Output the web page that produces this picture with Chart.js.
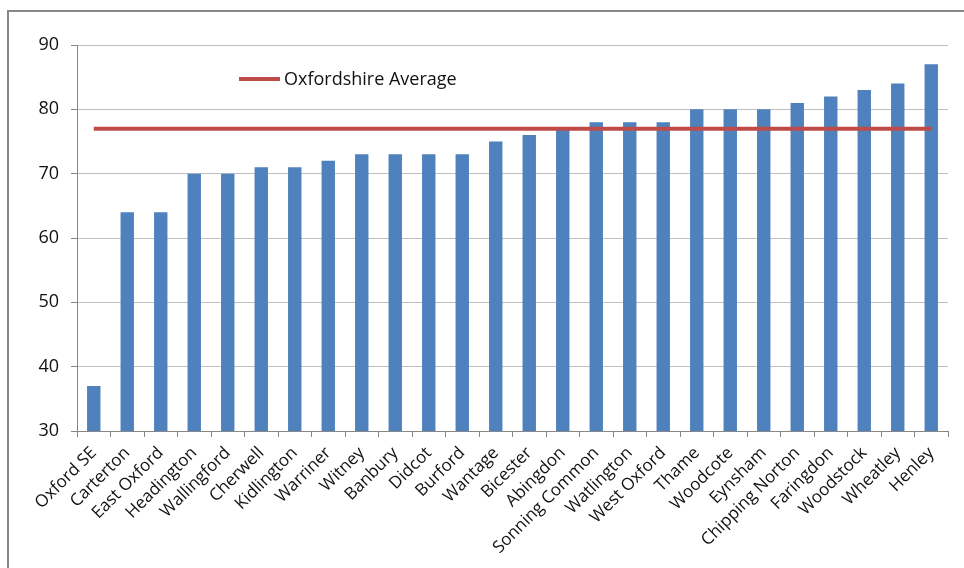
<!DOCTYPE html>
<html>
<head>
<meta charset="utf-8">
<script src="https://cdn.jsdelivr.net/npm/chart.js@4.4.1/dist/chart.umd.min.js"></script>
<style>
  html, body { margin: 0; padding: 0; background: #fff; overflow: hidden; }
  #frame {
    position: absolute; left: 7px; top: 10px; width: 1000px; height: 600px;
    border-left: 2px solid #878787; border-top: 2px solid #878787;
  }
  #wrap { position: absolute; left: 0; top: 0; width: 964px; height: 568px; }
</style>
</head>
<body>
<div id="frame"></div>
<div id="wrap"><canvas id="chart" width="964" height="568"></canvas></div>
<script>
const areas = ['Oxford SE', 'Carterton', 'East Oxford', 'Headington', 'Wallingford', 'Cherwell',
    'Kidlington', 'Warriner', 'Witney', 'Banbury', 'Didcot', 'Burford', 'Wantage', 'Bicester',
    'Abingdon', 'Sonning Common', 'Watlington', 'West Oxford', 'Thame', 'Woodcote', 'Eynsham',
    'Chipping Norton', 'Faringdon', 'Woodstock', 'Wheatley', 'Henley'];
const scores = [37, 64, 64, 70, 70, 71, 71, 72, 73, 73, 73, 73, 75, 76, 77, 78, 78, 78, 80, 80, 80,
    81, 82, 83, 84, 87];
const countyAverage = 77;
const averageLine = areas.map(() => countyAverage);
const yTicks = [30, 40, 50, 60, 70, 80, 90];

const FONT = '"Open Sans", "DejaVu Sans", sans-serif';

// legend for the average line, drawn inside the plot area
const avgLegend = {
    id: 'avgLegend',
    afterDraw(chart) {
        const ds = chart.data.datasets[1];
        const { ctx, chartArea } = chart;
        const x = chartArea.left + 162;
        const y = chartArea.top + 34;
        ctx.save();
        ctx.strokeStyle = ds.borderColor;
        ctx.lineWidth = 4;
        ctx.beginPath();
        ctx.moveTo(x, y);
        ctx.lineTo(x + 41, y);
        ctx.stroke();
        ctx.fillStyle = '#111';
        ctx.font = '18px ' + FONT;
        ctx.textBaseline = 'middle';
        ctx.fillText(ds.label, x + 45, y + 1);
        ctx.restore();
    }
};

new Chart(document.getElementById('chart'), {
    type: 'bar',
    data: {
        labels: areas,
        datasets: [{
            label: 'Score',
            data: scores,
            backgroundColor: '#4F81BD',
            barPercentage: 0.4,
            categoryPercentage: 1,
            order: 1
        }, {
            type: 'line',
            label: 'Oxfordshire Average',
            data: averageLine,
            borderColor: '#BE4B48',
            borderWidth: 4,
            pointRadius: 0,
            fill: false,
            order: 0
        }]
    },
    options: {
        responsive: false,
        animation: false,
        layout: { padding: { top: 45, right: 16, left: 0, bottom: 0 } },
        plugins: {
            legend: { display: false },
            tooltip: { enabled: false }
        },
        scales: {
            x: {
                afterFit: s => { s.height = 137; },
                grid: { drawOnChartArea: false, tickLength: 6, tickColor: '#878787', offset: true },
                border: { color: '#878787', width: 1 },
                ticks: {
                    color: '#111',
                    font: { family: FONT, size: 17 },
                    minRotation: 45,
                    maxRotation: 45,
                    autoSkip: false,
                    padding: 6
                }
            },
            y: {
                min: yTicks[0],
                max: yTicks[yTicks.length - 1],
                afterFit: s => { s.width = 77; },
                afterBuildTicks: s => { s.ticks = yTicks.map(v => ({ value: v })); },
                grid: { color: '#BFBFBF', tickLength: 6, tickColor: '#878787' },
                border: { color: '#878787', width: 1 },
                ticks: {
                    color: '#111',
                    font: { family: FONT, size: 18 },
                    padding: 12
                }
            }
        }
    },
    plugins: [avgLegend]
});
</script>
</body>
</html>
